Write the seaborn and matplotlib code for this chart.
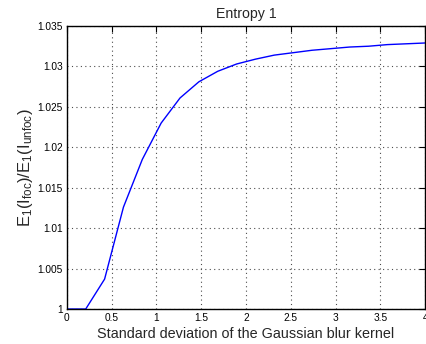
import matplotlib
matplotlib.use("Agg")
import matplotlib.pyplot as plt
import seaborn as sns
import pandas as pd

sigma = [0.0, 0.2105, 0.4211, 0.6316, 0.8421, 1.0526, 1.2632, 1.4737, 1.6842, 1.8947,
         2.1053, 2.3158, 2.5263, 2.7368, 2.9474, 3.1579, 3.3684, 3.5789, 3.7895, 4.0]
ratio = [1.0, 1.0, 1.0037, 1.0126, 1.0185, 1.0230, 1.0261, 1.0281, 1.0294, 1.0303,
         1.0309, 1.0314, 1.0317, 1.0320, 1.0322, 1.0324, 1.0325, 1.0327, 1.0328, 1.0329]
xticks = [0, 0.5, 1, 1.5, 2, 2.5, 3, 3.5, 4]
xticklabels = ["0", "0.5", "1", "1.5", "2", "2.5", "3", "3.5", "4"]
yticks = [1.0, 1.005, 1.01, 1.015, 1.02, 1.025, 1.03, 1.035]
yticklabels = ["1", "1.005", "1.01", "1.015", "1.02", "1.025", "1.03", "1.035"]

sns.set_style("white")
plt.rcParams['font.family'] = ['Liberation Sans', 'DejaVu Sans']
plt.rcParams['mathtext.fontset'] = 'custom'
plt.rcParams['mathtext.rm'] = 'Liberation Sans'
plt.rcParams['mathtext.it'] = 'Liberation Sans'

df = pd.DataFrame({"sigma": sigma, "ratio": ratio})

fig = plt.figure(figsize=(4.26, 3.44), dpi=100)
ax = fig.add_axes([0.157, 0.1017, 0.841, 0.8227])
sns.lineplot(data=df, x="sigma", y="ratio", ax=ax, color="#0000ff", linewidth=1.0)

ax.set_xlim(0, 4)
ax.set_ylim(1.0, 1.035)
ax.set_xticks(xticks)
ax.set_xticklabels(xticklabels)
ax.set_yticks(yticks)
ax.set_yticklabels(yticklabels)
ax.tick_params(direction="in", length=4, width=0.8, labelsize=7.3, top=True, right=True,
               colors="k", pad=3)
for s in ax.spines.values():
    s.set_visible(True)
    s.set_color("k")
    s.set_linewidth(1.0)
ax.grid(True, linestyle=(0, (1, 3)), color="0.3", linewidth=0.8)

ax.set_title("Entropy 1", fontsize=10.2, pad=5.5)
ax.set_xlabel("Standard deviation of the Gaussian blur kernel", fontsize=10.4, labelpad=3)
ax.set_ylabel(r"$\mathregular{E_1(I_{foc})/E_1(I_{unfoc})}$", fontsize=12)
ax.yaxis.set_label_coords(-0.088, 0.5)

fig.savefig("out.png", dpi=100)
